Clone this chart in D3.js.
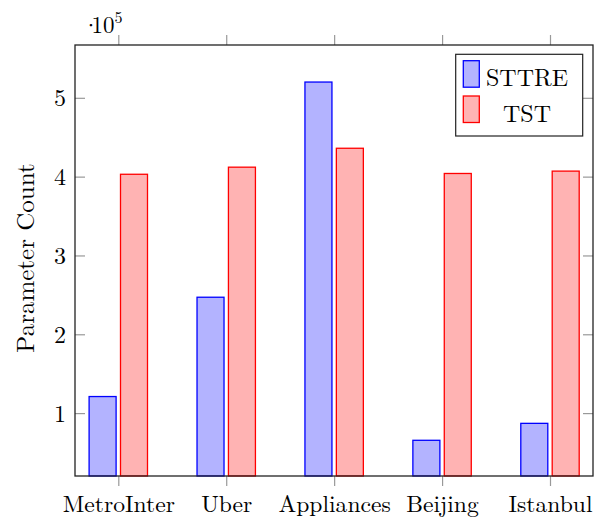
<!DOCTYPE html>
<html><head><meta charset="utf-8">
<script src="https://cdn.jsdelivr.net/npm/d3@7"></script>
<style>body{margin:0;background:#fff;}</style>
</head><body>
<svg id="c" width="603" height="517"></svg>
<script>
const categories = ["MetroInter", "Uber", "Appliances", "Beijing", "Istanbul"];
const seriesNames = ["STTRE", "TST"];
const sttre = [121000, 247000, 520000, 65500, 87000];
const tst = [403000, 412000, 436000, 404000, 407000];
const yTicks = [100000, 200000, 300000, 400000, 500000];
const yTickLabels = ["1", "2", "3", "4", "5"];
const colors = [{fill:"#b3b3ff", stroke:"#0000ff"}, {fill:"#ffb3b3", stroke:"#ff0000"}];
const FONT = "'Latin Modern Roman', 'Liberation Serif', serif";

const svg = d3.select("#c");
const L = 75, R = 593, T = 45, B = 476;
const x = d3.scalePoint().domain(categories).range([118.3, 550]);
const y = d3.scaleLinear().domain([20200, 567000]).range([B, T]);
const barW = 27, off = 15.7;

const series = [sttre, tst];
series.forEach((vals, si) => {
  svg.append("g").selectAll("rect").data(vals).join("rect")
    .attr("x", (d, i) => x(categories[i]) + (si === 0 ? -off : off) - barW / 2)
    .attr("y", d => y(d))
    .attr("width", barW)
    .attr("height", d => B - y(d))
    .attr("fill", colors[si].fill)
    .attr("stroke", colors[si].stroke)
    .attr("stroke-width", 1.3);
});

const tickLen = 10;
const xb = d3.axisBottom(x).tickSize(tickLen).tickPadding(0);
const gx = svg.append("g").attr("transform", `translate(0,${B})`).call(xb);
gx.select(".domain").remove();
gx.selectAll("line").attr("stroke", "#999").attr("stroke-width", 1.2);
gx.selectAll("text").attr("y", 35.8).attr("dy", null).attr("font-size", 23.6).attr("fill", "#000").style("font-family", FONT);
const xt = d3.axisTop(x).tickSize(tickLen).tickFormat("");
const gxt = svg.append("g").attr("transform", `translate(0,${T})`).call(xt);
gxt.select(".domain").remove();
gxt.selectAll("line").attr("stroke", "#999").attr("stroke-width", 1.2);

const yl = d3.axisRight(y).tickValues(yTicks).tickSize(tickLen).tickFormat("");
const gyl = svg.append("g").attr("transform", `translate(${L},0)`).call(yl);
gyl.select(".domain").remove();
gyl.selectAll("line").attr("stroke", "#999").attr("stroke-width", 1.2);
gyl.selectAll("g.tick").append("text").attr("x", -9).attr("dy", "0.33em")
  .attr("text-anchor", "end").attr("font-size", 24).attr("fill", "#000").style("font-family", FONT)
  .text((d, i) => yTickLabels[i]);
const yr = d3.axisLeft(y).tickValues(yTicks).tickSize(tickLen).tickFormat("");
const gyr = svg.append("g").attr("transform", `translate(${R},0)`).call(yr);
gyr.select(".domain").remove();
gyr.selectAll("line").attr("stroke", "#999").attr("stroke-width", 1.2);

svg.append("rect").attr("x", L).attr("y", T).attr("width", R - L).attr("height", B - T)
  .attr("fill", "none").attr("stroke", "#222").attr("stroke-width", 1.3);

const m = svg.append("text").attr("y", 33.3).attr("font-size", 23).style("font-family", FONT);
m.append("tspan").attr("x", 82).text("·");
m.append("tspan").attr("x", 91.5).text("10");
m.append("tspan").attr("dy", -10).attr("font-size", 16).text("5");

svg.append("text").attr("transform", "translate(33.5,258) rotate(-90)").style("font-family", FONT)
  .attr("text-anchor", "middle").attr("font-size", 25).text("Parameter Count");

const lg = svg.append("g");
lg.append("rect").attr("x", 455.7).attr("y", 54.3).attr("width", 127).attr("height", 81.7)
  .attr("fill", "#fff").attr("stroke", "#222").attr("stroke-width", 1.2);
seriesNames.forEach((n, i) => {
  lg.append("rect").attr("x", 463.3).attr("y", 60.7 + i * 35.3).attr("width", 16).attr("height", 26.5)
    .attr("fill", colors[i].fill).attr("stroke", colors[i].stroke).attr("stroke-width", 1.3);
  lg.append("text").attr("x", 527).attr("y", 86.3 + i * 35.3).attr("text-anchor", "middle")
    .style("font-family", FONT).attr("font-size", 24).text(n);
});
</script>
</body></html>
